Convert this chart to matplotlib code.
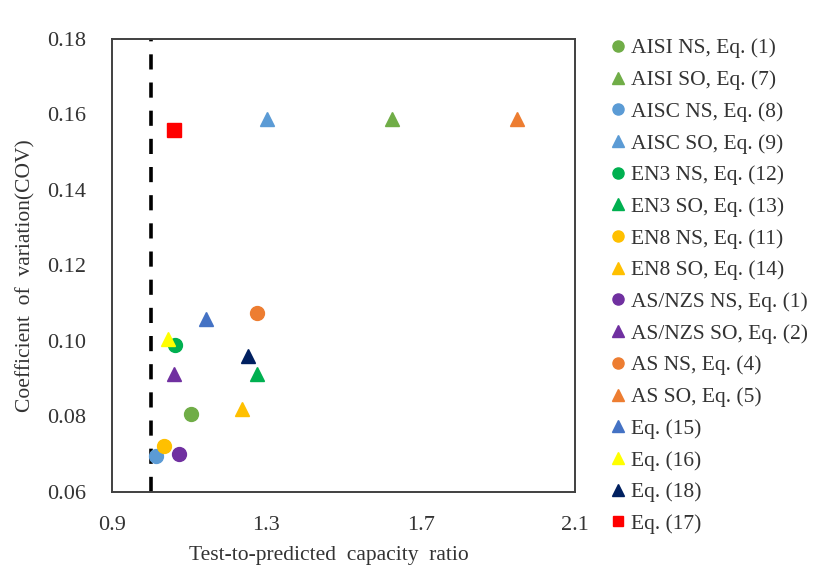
import matplotlib
matplotlib.use("Agg")
import matplotlib.pyplot as plt

plt.rcParams['font.family'] = ['Liberation Serif', 'DejaVu Serif']

# Design methods: label, marker, colour, test-to-predicted ratio, COV
labels = ["AISI NS, Eq. (1)", "AISI SO, Eq. (7)", "AISC NS, Eq. (8)", "AISC SO, Eq. (9)",
          "EN3 NS, Eq. (12)", "EN3 SO, Eq. (13)", "EN8 NS, Eq. (11)", "EN8 SO, Eq. (14)",
          "AS/NZS NS, Eq. (1)", "AS/NZS SO, Eq. (2)", "AS NS, Eq. (4)", "AS SO, Eq. (5)",
          "Eq. (15)", "Eq. (16)", "Eq. (18)", "Eq. (17)"]
markers = ["o", "^", "o", "^", "o", "^", "o", "^", "o", "^", "o", "^", "^", "^", "^", "s"]
colors = ["#70AD47", "#70AD47", "#5B9BD5", "#5B9BD5", "#00B050", "#00B050",
          "#FFC000", "#FFC000", "#7030A0", "#7030A0", "#ED7D31", "#ED7D31",
          "#4472C4", "#FFFF00", "#002060", "#FF0000"]
ratio = [1.105, 1.625, 1.014, 1.301, 1.063, 1.276, 1.036, 1.236,
         1.074, 1.061, 1.275, 1.949, 1.143, 1.044, 1.252, 1.061]
cov = [0.0807, 0.1587, 0.0695, 0.1587, 0.0989, 0.0913, 0.0722, 0.0821,
       0.0701, 0.0913, 0.1075, 0.1587, 0.1058, 0.1005, 0.0959, 0.1558]

fig = plt.figure(figsize=(8.23, 5.73), dpi=100)
ax = fig.add_axes([0.136, 0.1414, 0.563, 0.7906])

# reference line at ratio = 1.0
ax.plot([1.0, 1.0], [0.06, 0.18], color="black", lw=2.6, dashes=(4.2, 3.6), zorder=1)

for i in range(len(labels)):
    ms = 9.5 if markers[i] == "s" else 10
    ax.plot(ratio[i], cov[i], linestyle="none", marker=markers[i], color=colors[i],
            markersize=ms, label=labels[i], zorder=3)

ax.set_xlim(0.9, 2.1)
ax.set_ylim(0.06, 0.18)
ax.set_xticks([0.9, 1.3, 1.7, 2.1])
ax.set_yticks([0.06, 0.08, 0.10, 0.12, 0.14, 0.16, 0.18])
ax.set_yticklabels([f"{v:.2f}" for v in ax.get_yticks()])
ax.tick_params(length=0, labelsize=16, colors="#333333")
ax.tick_params(axis="y", pad=18.5)
ax.tick_params(axis="x", pad=17)
for s in ax.spines.values():
    s.set_linewidth(1.4)
    s.set_color("#404040")

ax.set_xlabel("Test-to-predicted  capacity  ratio", fontsize=15.5, color="#333333", labelpad=8)
ax.set_ylabel("Coefficient  of  variation(COV)", fontsize=15.5, color="#333333", labelpad=8.5)
ax.xaxis.label.set_x(0.469)
ax.yaxis.label.set_y(0.477)

ax.legend(loc="upper left", bbox_to_anchor=(0.733, 0.948), bbox_transform=fig.transFigure,
          frameon=False, fontsize=15.5, handlelength=0.6, handletextpad=0.3,
          labelspacing=0.54, borderaxespad=0, markerscale=0.8, labelcolor="#333333")

fig.savefig("out.png", dpi=100)
